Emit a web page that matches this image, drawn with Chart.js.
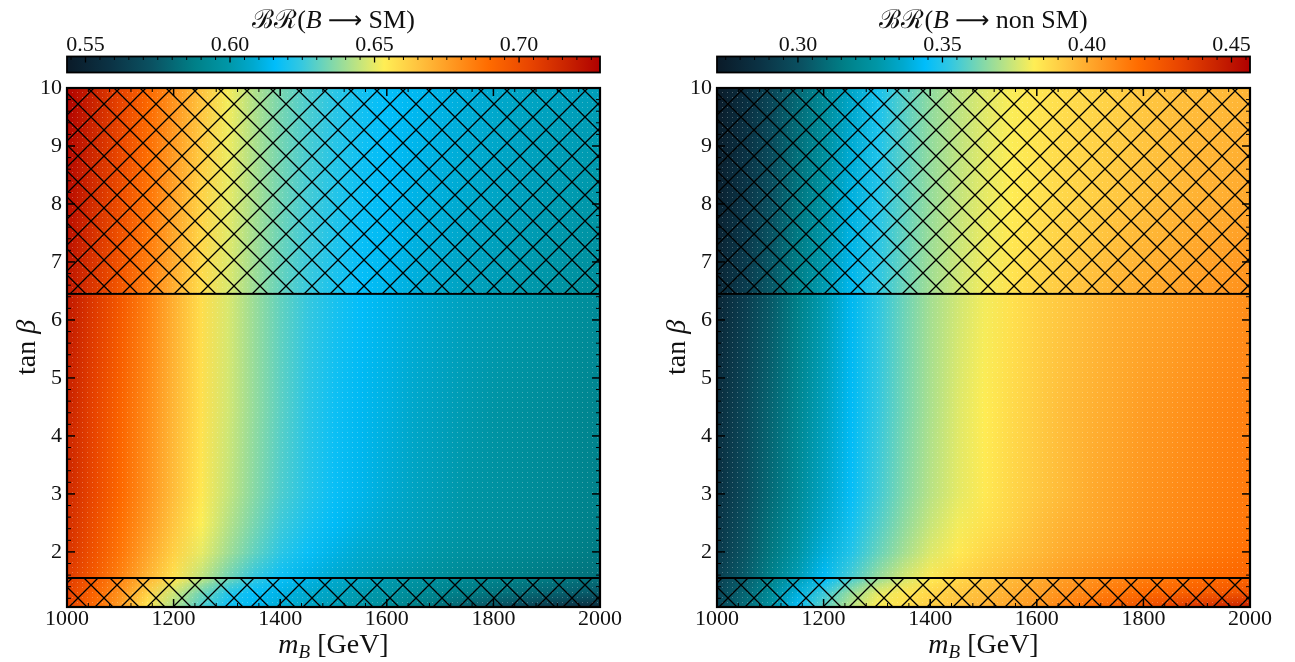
<!DOCTYPE html>
<html>
<head>
<meta charset="utf-8">
<script src="https://cdn.jsdelivr.net/npm/chart.js@4.4.1/dist/chart.umd.min.js"></script>
<style>
  html, body { margin: 0; padding: 0; background: #fff; }
  #wrap { position: relative; width: 1295px; height: 662px; }
  .panel { position: absolute; top: 0; height: 662px; }
  #left { left: 0; width: 650px; }
  #right { left: 650px; width: 645px; }
</style>
</head>
<body>
<div id="wrap">
  <div class="panel" id="left"><canvas id="chartSM"></canvas></div>
  <div class="panel" id="right"><canvas id="chartNonSM"></canvas></div>
</div>
<script>
// m_B grid (GeV) and tan(beta) rows of the scan
const mB = [1000, 1050, 1100, 1150, 1200, 1250, 1300, 1350, 1400, 1450, 1500,
            1550, 1600, 1650, 1700, 1750, 1800, 1850, 1900, 1950, 2000];
const tanBRows = [1.05, 1.3, 1.55, 2.0, 2.5, 3.0, 4.5, 6.45, 8.2, 10.0];

// BR(B -> SM), one row per tanBRows entry
const brSM = [
  [.703,.690,.675,.655,.641,.628,.618,.614,.609,.606,.602,.598,.594,.588,.583,.577,.572,.567,.562,.558,.554],
  [.705,.692,.678,.661,.646,.633,.622,.616,.612,.608,.605,.601,.598,.594,.590,.587,.584,.581,.579,.577,.575],
  [.707,.695,.682,.669,.656,.644,.633,.624,.617,.612,.608,.605,.601,.598,.595,.592,.590,.588,.586,.584,.583],
  [.710,.698,.686,.673,.661,.650,.640,.631,.623,.617,.612,.608,.605,.602,.599,.596,.594,.592,.590,.588,.586],
  [.712,.700,.688,.676,.664,.653,.643,.634,.626,.620,.615,.611,.607,.604,.601,.598,.596,.594,.592,.590,.588],
  [.714,.702,.690,.678,.666,.655,.645,.636,.628,.622,.617,.613,.609,.605,.602,.599,.597,.595,.593,.591,.589],
  [.716,.704,.692,.680,.668,.657,.647,.638,.630,.623,.618,.614,.611,.607,.604,.601,.598,.596,.594,.592,.590],
  [.720,.708,.696,.683,.670,.658,.648,.639,.631,.625,.620,.616,.613,.610,.607,.604,.602,.600,.598,.596,.594],
  [.724,.712,.700,.687,.674,.661,.650,.641,.633,.627,.622,.618,.615,.612,.610,.608,.606,.604,.602,.601,.599],
  [.727,.716,.704,.691,.678,.665,.652,.642,.634,.628,.623,.619,.616,.614,.612,.610,.608,.606,.605,.604,.603]
];

// BR(B -> non SM)
const brNonSM = [
  [.297,.310,.325,.345,.359,.372,.382,.386,.391,.394,.398,.402,.406,.412,.417,.423,.428,.433,.438,.442,.446],
  [.295,.308,.322,.339,.354,.367,.378,.384,.388,.392,.395,.399,.403,.407,.411,.415,.418,.421,.423,.425,.427],
  [.293,.305,.318,.331,.344,.356,.367,.376,.383,.388,.392,.396,.400,.404,.407,.410,.413,.415,.417,.419,.421],
  [.290,.302,.314,.327,.339,.350,.360,.369,.377,.383,.388,.392,.396,.400,.403,.406,.409,.411,.413,.415,.417],
  [.288,.300,.312,.324,.336,.347,.357,.366,.374,.380,.385,.389,.394,.398,.401,.404,.407,.409,.411,.413,.415],
  [.286,.298,.310,.322,.334,.345,.355,.364,.372,.378,.383,.388,.392,.396,.400,.403,.406,.408,.410,.412,.414],
  [.284,.296,.308,.320,.332,.343,.353,.362,.370,.377,.382,.387,.391,.395,.398,.401,.404,.406,.408,.410,.412],
  [.280,.292,.304,.317,.330,.342,.352,.361,.369,.375,.380,.385,.389,.392,.395,.398,.400,.402,.404,.406,.408],
  [.276,.288,.300,.313,.326,.339,.350,.359,.367,.373,.378,.382,.385,.388,.390,.392,.394,.396,.398,.399,.401],
  [.273,.284,.296,.309,.322,.335,.348,.358,.366,.372,.377,.381,.384,.386,.388,.390,.392,.394,.395,.396,.397]
];

// hatched (excluded) tan(beta) bands
const excludedBands = [[1.05, 1.55], [6.45, 10.0]];

// axes / colorbars
const xTicks = [1000, 1200, 1400, 1600, 1800, 2000];
const yTicks = [2, 3, 4, 5, 6, 7, 8, 9, 10];
const cbTicksSM = [0.55, 0.60, 0.65, 0.70];
const cbTicksNonSM = [0.30, 0.35, 0.40, 0.45];
const cbRangeSM = [0.5436, 0.728];
const cbRangeNonSM = [0.272, 0.4564];

const FONT = "'Liberation Serif', 'DejaVu Serif', serif";
const TEXT = '#111';

// colormap (dark teal -> cyan -> yellow -> orange -> dark red)
const cmapStops = [
  [0.00, '#0a1a28'], [0.08, '#0b3244'], [0.16, '#0a5262'], [0.24, '#008088'],
  [0.30, '#0096a6'], [0.35, '#00a9cf'], [0.39, '#00bdfb'], [0.44, '#35c8e0'],
  [0.50, '#85d9a8'], [0.55, '#c5e57c'], [0.595, '#ffee55'], [0.66, '#ffc23e'],
  [0.72, '#ff9a22'], [0.79, '#ff6c00'], [0.87, '#e84400'], [0.94, '#c82200'],
  [1.00, '#b00000']
].map(([t, h]) => [t, [1, 3, 5].map(i => parseInt(h.substr(i, 2), 16))]);

function cmap(t) {
  t = Math.min(1, Math.max(0, t));
  for (let i = 1; i < cmapStops.length; i++) {
    const [t1, c1] = cmapStops[i];
    if (t <= t1) {
      const [t0, c0] = cmapStops[i - 1];
      const f = (t - t0) / (t1 - t0);
      return c0.map((c, k) => Math.round(c + (c1[k] - c) * f));
    }
  }
  return cmapStops[cmapStops.length - 1][1];
}

function makeHatch(ctx) {
  const T = 26;
  const c = document.createElement('canvas');
  c.width = T; c.height = T;
  const g = c.getContext('2d');
  g.strokeStyle = '#000';
  g.lineWidth = 1.3;
  g.beginPath();
  for (const off of [-T, 0, T]) {
    g.moveTo(off, 0); g.lineTo(off + T, T);
    g.moveTo(off + T, 0); g.lineTo(off, T);
  }
  g.stroke();
  return ctx.createPattern(c, 'repeat');
}

function makeDots(ctx) {
  const c = document.createElement('canvas');
  c.width = 5; c.height = 5;
  const g = c.getContext('2d');
  g.fillStyle = 'rgba(255,255,255,0.28)';
  g.fillRect(2, 2, 1, 1);
  return ctx.createPattern(c, 'repeat');
}

// draw a run of text pieces with different fonts, centred at (cx, cy)
function richText(ctx, parts, cx, cy) {
  let w = 0;
  parts.forEach(p => { ctx.font = p.font; p.w = ctx.measureText(p.t).width; w += p.w; });
  let x = cx - w / 2;
  ctx.textBaseline = 'alphabetic';
  ctx.textAlign = 'left';
  parts.forEach(p => {
    ctx.font = p.font;
    ctx.fillText(p.t, x, cy + (p.dy || 0));
    x += p.w;
  });
}

const heatmap = {
  id: 'heatmap',
  beforeDatasetsDraw(chart, args, o) {
    const { ctx, chartArea: a, scales: { x, y } } = chart;
    const n = mB.length;
    const cw = x.getPixelForValue(mB[1]) - x.getPixelForValue(mB[0]);
    for (let r = 0; r < tanBRows.length - 1; r++) {
      const band = document.createElement('canvas');
      band.width = n; band.height = 2;
      const g = band.getContext('2d');
      const img = g.createImageData(n, 2);
      [r + 1, r].forEach((row, py) => {
        o.rows[row].forEach((v, i) => {
          const c = cmap((v - o.range[0]) / (o.range[1] - o.range[0]));
          const k = (py * n + i) * 4;
          img.data[k] = c[0]; img.data[k + 1] = c[1]; img.data[k + 2] = c[2]; img.data[k + 3] = 255;
        });
      });
      g.putImageData(img, 0, 0);
      const yTop = y.getPixelForValue(tanBRows[r + 1]);
      const yBot = y.getPixelForValue(tanBRows[r]);
      const h = yBot - yTop;
      ctx.save();
      ctx.beginPath();
      ctx.rect(a.left, yTop - 0.5, a.right - a.left, h + 1);
      ctx.clip();
      ctx.imageSmoothingEnabled = true;
      ctx.imageSmoothingQuality = 'low';
      ctx.drawImage(band, x.getPixelForValue(mB[0]) - cw / 2, yTop - h / 2, cw * n, 2 * h);
      ctx.restore();
    }
    // scan points
    ctx.save();
    ctx.fillStyle = makeDots(ctx);
    ctx.fillRect(a.left, a.top, a.right - a.left, a.bottom - a.top);
    ctx.restore();
  },
  afterDraw(chart, args, o) {
    const { ctx, chartArea: a, scales: { x, y, cb } } = chart;
    const line = (x0, y0, x1, y1) => { ctx.beginPath(); ctx.moveTo(x0, y0); ctx.lineTo(x1, y1); ctx.stroke(); };

    // hatched regions
    ctx.save();
    const hatch = makeHatch(ctx);
    excludedBands.forEach(([lo, hi]) => {
      const yt = y.getPixelForValue(hi), yb = y.getPixelForValue(lo);
      ctx.fillStyle = hatch;
      ctx.fillRect(a.left, yt, a.right - a.left, yb - yt);
      ctx.strokeStyle = '#000';
      ctx.lineWidth = 2;
      ctx.strokeRect(a.left, yt, a.right - a.left, yb - yt);
    });
    ctx.restore();

    // frame and ticks
    ctx.save();
    ctx.strokeStyle = '#000';
    for (let k = 0; k <= 25; k++) {
      const v = 1000 + k * 40;
      const px = x.getPixelForValue(v);
      const major = xTicks.includes(v);
      const L = major ? 8 : 4;
      ctx.lineWidth = major ? 1.5 : 1;
      line(px, a.bottom, px, a.bottom - L);
      line(px, a.top, px, a.top + L);
    }
    for (let k = 6; k <= 50; k++) {
      const v = k / 5;
      if (v < 1.05) continue;
      const py = y.getPixelForValue(v);
      const major = k % 5 === 0;
      const L = major ? 8 : 4;
      ctx.lineWidth = major ? 1.5 : 1;
      line(a.left, py, a.left + L, py);
      line(a.right, py, a.right - L, py);
    }
    ctx.lineWidth = 2.2;
    ctx.strokeRect(a.left, a.top, a.right - a.left, a.bottom - a.top);

    // colorbar
    const barTop = a.top - 31.5, barH = 16;
    const x0 = cb.getPixelForValue(o.range[0]), x1 = cb.getPixelForValue(o.range[1]);
    const grad = ctx.createLinearGradient(x0, 0, x1, 0);
    cmapStops.forEach(([t, c]) => grad.addColorStop(t, `rgb(${c[0]},${c[1]},${c[2]})`));
    ctx.fillStyle = grad;
    ctx.fillRect(x0, barTop, x1 - x0, barH);
    const s0 = Math.ceil(o.range[0] / 0.005), s1 = Math.floor(o.range[1] / 0.005);
    for (let k = s0; k <= s1; k++) {
      const v = k * 0.005;
      const px = cb.getPixelForValue(v);
      const major = o.cbTicks.some(t => Math.abs(t - v) < 1e-6);
      ctx.lineWidth = major ? 1.3 : 1;
      line(px, barTop, px, barTop + (major ? 6 : 3.5));
    }
    ctx.lineWidth = 1.8;
    ctx.strokeRect(x0, barTop, x1 - x0, barH);
    ctx.restore();

    // titles
    ctx.save();
    ctx.fillStyle = TEXT;
    const cx = (a.left + a.right) / 2;
    richText(ctx, o.title, cx, 28);
    richText(ctx, [
      { t: 'm', font: `italic 28px ${FONT}` },
      { t: 'B', font: `italic 19px ${FONT}`, dy: 5 },
      { t: ' [GeV]', font: `28px ${FONT}` }
    ], cx, 653);
    ctx.translate(27, (a.top + a.bottom) / 2);
    ctx.rotate(-Math.PI / 2);
    richText(ctx, [
      { t: 'tan ', font: `28px ${FONT}` },
      { t: 'β', font: `italic 28px ${FONT}` }
    ], 0, 8);
    ctx.restore();
  }
};

function makePanel(canvasId, rows, range, cbTicks, title, padRight) {
  const tickFont = { family: FONT, size: 22, lineHeight: 1 };
  const axis = { grid: { display: false, drawTicks: false }, border: { display: false } };
  return new Chart(document.getElementById(canvasId), {
    type: 'scatter',
    data: { datasets: [{ data: [], pointRadius: 0 }] },
    options: {
      responsive: true,
      maintainAspectRatio: false,
      animation: false,
      layout: { padding: { left: 0, right: padRight, top: 0, bottom: 0 } },
      plugins: {
        legend: { display: false },
        tooltip: { enabled: false },
        heatmap: { rows, range, cbTicks, title }
      },
      scales: {
        x: {
          ...axis, type: 'linear', position: 'bottom', min: 1000, max: 2000,
          afterBuildTicks: s => { s.ticks = xTicks.map(v => ({ value: v })); },
          afterFit: s => { s.height = 55; },
          ticks: { font: tickFont, color: TEXT, padding: 1, maxRotation: 0, autoSkip: false, callback: v => String(v) }
        },
        y: {
          ...axis, type: 'linear', position: 'left', min: 1.05, max: 10,
          afterBuildTicks: s => { s.ticks = yTicks.map(v => ({ value: v })); },
          afterFit: s => { s.width = 67; },
          ticks: { font: tickFont, color: TEXT, padding: 5, autoSkip: false, callback: v => String(v) }
        },
        cb: {
          ...axis, type: 'linear', position: 'top', min: range[0], max: range[1],
          afterBuildTicks: s => { s.ticks = cbTicks.map(v => ({ value: v })); },
          afterFit: s => { s.height = 88; },
          ticks: { font: tickFont, color: TEXT, padding: 32, maxRotation: 0, autoSkip: false, callback: v => v.toFixed(2) }
        }
      }
    },
    plugins: [heatmap]
  });
}

const ARROW = `24px 'Noto Sans', 'DejaVu Sans', sans-serif`;
const titleSM = [
  { t: 'ℬℛ(', font: `26px ${FONT}` },
  { t: 'B', font: `italic 26px ${FONT}` },
  { t: ' ⟶ ', font: ARROW },
  { t: 'SM)', font: `26px ${FONT}` }
];
const titleNonSM = [
  { t: 'ℬℛ(', font: `26px ${FONT}` },
  { t: 'B', font: `italic 26px ${FONT}` },
  { t: ' ⟶ ', font: ARROW },
  { t: 'non SM)', font: `26px ${FONT}` }
];

makePanel('chartSM', brSM, cbRangeSM, cbTicksSM, titleSM, 50);
makePanel('chartNonSM', brNonSM, cbRangeNonSM, cbTicksNonSM, titleNonSM, 45);
</script>
</body>
</html>
